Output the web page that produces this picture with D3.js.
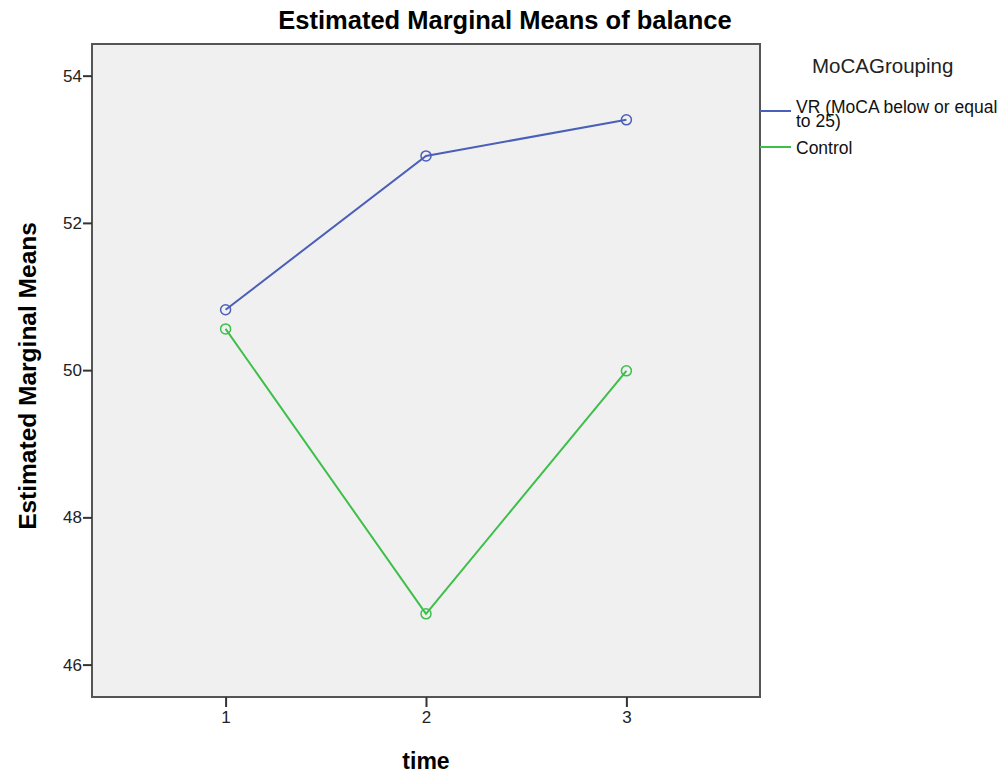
<!DOCTYPE html>
<html lang="en">
<head>
<meta charset="UTF-8">
<title>Estimated Marginal Means of balance</title>
<style>
  * { margin: 0; padding: 0; }
  body { background: #fff; font-family: "Liberation Sans", Arial, sans-serif; }
</style>
</head>
<body>
<div id="container"></div>
<script src="https://cdn.jsdelivr.net/npm/d3@7/dist/d3.min.js"></script>
<script>
var times = [1, 2, 3],
    yTicks = [46, 48, 50, 52, 54],
    groups = ['VR (MoCA below or equal to 25)', 'Control'],
    vrMeans = [50.82, 52.91, 53.40],
    controlMeans = [50.56, 46.69, 49.99],
    colors = ['#4a5fb8', '#3dbf4a']

var series = [
  { name: groups[0], values: vrMeans, color: colors[0] },
  { name: groups[1], values: controlMeans, color: colors[1] }
]

var width = 1007, height = 775,
    pLeft = 92, pTop = 44, pRight = 760, pBottom = 697

var svg = d3.select('#container').append('svg')
  .attr('width', width).attr('height', height)

var x = d3.scaleLinear().domain([1 / 3, 11 / 3]).range([pLeft, pRight])
var y = d3.scaleLinear().domain([45.56, 54.43]).range([pBottom, pTop])

// plot background
svg.append('rect')
  .attr('x', pLeft).attr('y', pTop)
  .attr('width', pRight - pLeft).attr('height', pBottom - pTop)
  .attr('fill', '#f0f0f0')
  .attr('stroke', '#555').attr('stroke-width', 2)

// axes
var yAxis = svg.append('g')
  .attr('transform', 'translate(' + pLeft + ',0)')
  .call(d3.axisLeft(y).tickValues(yTicks).tickFormat(d3.format('d')).tickSize(9).tickPadding(1))
var xAxis = svg.append('g')
  .attr('transform', 'translate(0,' + pBottom + ')')
  .call(d3.axisBottom(x).tickValues(times).tickFormat(d3.format('d')).tickSize(10).tickPadding(4))

;[yAxis, xAxis].forEach(function (ax) {
  ax.select('.domain').remove()
  ax.selectAll('line').attr('stroke', '#333').attr('stroke-width', 2)
  ax.selectAll('text').attr('fill', '#222').style('font-size', '17px')
    .style('font-family', '"Liberation Sans", Arial, sans-serif')
})

// lines and markers
var line = d3.line()
  .x(function (d, i) { return x(times[i]) })
  .y(function (d) { return y(d) })

series.forEach(function (s) {
  svg.append('path')
    .attr('d', line(s.values))
    .attr('fill', 'none')
    .attr('stroke', s.color)
    .attr('stroke-width', 2)
  svg.selectAll(null)
    .data(s.values)
    .enter()
    .append('circle')
    .attr('cx', function (d, i) { return x(times[i]) })
    .attr('cy', function (d) { return y(d) })
    .attr('r', 5)
    .attr('fill', 'none')
    .attr('stroke', s.color)
    .attr('stroke-width', 1.5)
})

// titles
svg.append('text')
  .attr('x', 505).attr('y', 29)
  .attr('text-anchor', 'middle')
  .style('font-size', '25.5px').style('font-weight', 'bold')
  .text('Estimated Marginal Means of balance')

svg.append('text')
  .attr('transform', 'translate(36,' + 376 + ') rotate(-90)')
  .attr('text-anchor', 'middle')
  .style('font-size', '24.5px').style('font-weight', 'bold')
  .text('Estimated Marginal Means')

svg.append('text')
  .attr('x', (pLeft + pRight) / 2).attr('y', 769)
  .attr('text-anchor', 'middle')
  .style('font-size', '23px').style('font-weight', 'bold')
  .text('time')

// legend
var legend = svg.append('g')
legend.append('text')
  .attr('x', 812).attr('y', 73)
  .style('font-size', '20.5px').attr('fill', '#222')
  .text('MoCAGrouping')

var legendY = [111, 147]
series.forEach(function (s, i) {
  legend.append('line')
    .attr('x1', pRight).attr('x2', 791)
    .attr('y1', legendY[i]).attr('y2', legendY[i])
    .attr('stroke', s.color).attr('stroke-width', 2)
})
var lt = legend.append('text')
  .style('font-size', '17.5px').attr('fill', '#111')
lt.append('tspan').attr('x', 796).attr('y', 113).text('VR (MoCA below or equal')
lt.append('tspan').attr('x', 796).attr('y', 127).text('to 25)')
legend.append('text')
  .attr('x', 796).attr('y', 154)
  .style('font-size', '17.5px').attr('fill', '#111')
  .text(groups[1])
</script>
</body>
</html>
